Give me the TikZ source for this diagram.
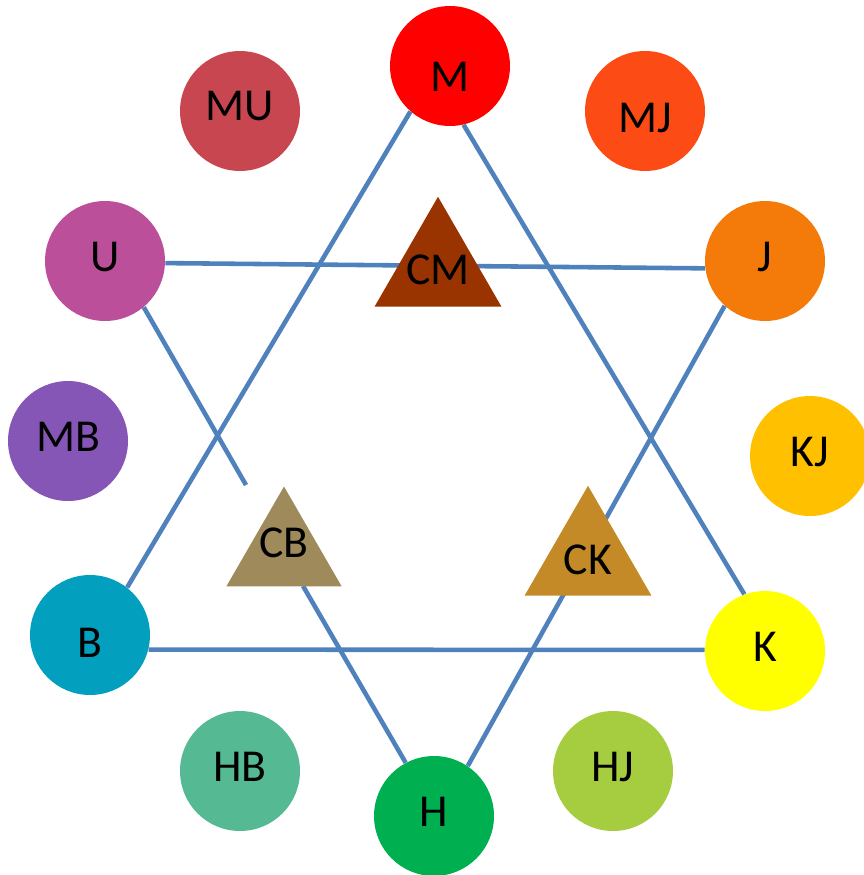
\documentclass[tikz,border=0pt]{standalone}
\usepackage{fontspec}
\setmainfont{Carlito}
\usetikzlibrary{shapes.geometric}
\definecolor{colM}{HTML}{FF0000}
\definecolor{colMU}{HTML}{C8464F}
\definecolor{colMJ}{HTML}{FC4B14}
\definecolor{colU}{HTML}{BC4F99}
\definecolor{colJ}{HTML}{F47A0A}
\definecolor{colMB}{HTML}{8656B6}
\definecolor{colKJ}{HTML}{FFC000}
\definecolor{colB}{HTML}{039FBF}
\definecolor{colK}{HTML}{FFFF00}
\definecolor{colHB}{HTML}{55B994}
\definecolor{colH}{HTML}{00B050}
\definecolor{colHJ}{HTML}{A6CD3F}
\definecolor{colCM}{HTML}{993300}
\definecolor{colCB}{HTML}{9E8A5A}
\definecolor{colCK}{HTML}{C48A28}
\definecolor{linkblue}{HTML}{4F81BD}

\begin{document}
\begin{tikzpicture}[x=0.02cm, y=-0.02cm, ball/.style={circle,fill=#1,minimum size=2.4cm,inner sep=0pt,text height=0.6cm,text depth=0.2cm,font=\fontsize{26}{30}\selectfont}, tri/.style={regular polygon,regular polygon sides=3,fill=#1,inner sep=0pt,minimum size=2.93cm,text height=0.6cm,text depth=0pt,font=\fontsize{26}{30}\selectfont}, link/.style={draw=linkblue,line width=2.6pt}]
\useasboundingbox (0,0) rectangle (863,875);
% outer ring
\node[ball=colM,text height=1.04cm,text depth=0pt] (M) at (450,66) {M};
\node[ball=colMU] (MU) at (240,111) {MU};
\node[ball=colMJ,text height=0.88cm,text depth=0pt] (MJ) at (645,111) {MJ};
\node[ball=colU] (U) at (105,261) {U};
\node[ball=colJ] (J) at (765,261) {J};
\node[ball=colMB] (MB) at (68,441) {MB};
\node[ball=colKJ] (KJ) at (810,456) {KJ};
\node[ball=colB,text height=0.88cm,text depth=0pt] (B) at (90,635) {B};
\node[ball=colK] (K) at (765,651) {K};
\node[ball=colHB] (HB) at (240,771) {HB};
\node[ball=colH] (H) at (434,816) {H};
\node[ball=colHJ] (HJ) at (613,771) {HJ};
% star lines
\coordinate (cbtop) at (246,485);
\coordinate (cbbot) at (303,586);
\draw[link] (M.229) -- (B.52);
\draw[link] (M.283) -- (K.110);
\draw[link] (U.-2) -- (J.187);
\draw[link] (B.-14) -- (K.179);
\draw[link] (U.310) -- (cbtop);
\draw[link] (cbbot) -- (H.118);
\draw[link] (J.228) -- (H.56);
% inner triangles
\node[tri=colCM] (CM) at (438,270) {\makebox[0pt]{CM}};
\node[tri=colCB,minimum size=2.66cm] (CB) at (284,553) {\makebox[0pt]{\raisebox{0.22cm}{CB}}};
\node[tri=colCK] (CK) at (588,559) {\makebox[0pt]{CK}};
\end{tikzpicture}
\end{document}
